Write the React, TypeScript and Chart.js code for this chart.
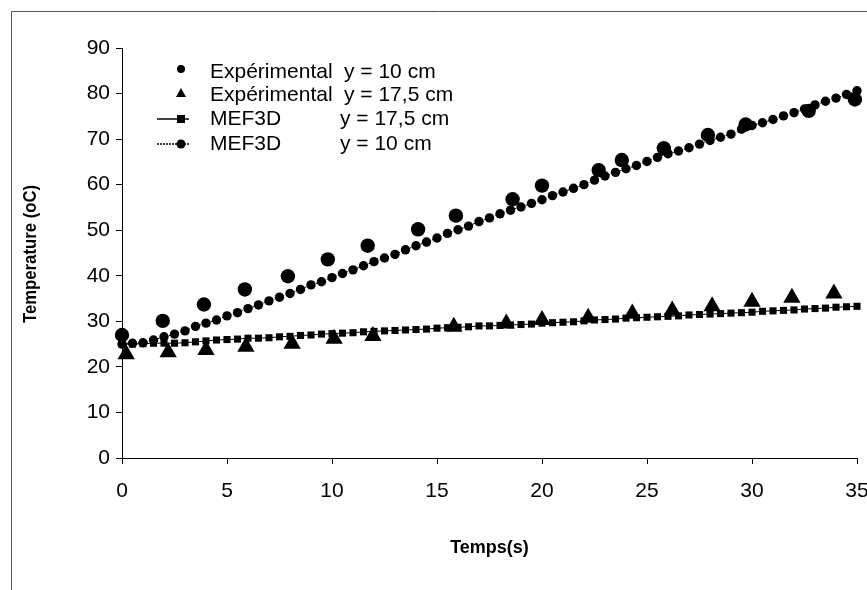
import React, { useEffect, useRef } from "react";
import { Chart, registerables } from "chart.js";

Chart.register(...registerables);

// Experimental, y = 10 cm
const expTimes10 = [0, 1.94, 3.9, 5.85, 7.9, 9.8, 11.7, 14.1, 15.9, 18.6, 20.0, 22.7, 23.8, 25.8, 27.9, 29.7, 32.7, 34.9];
const expTemp10 = [27.0, 30.1, 33.7, 37.0, 39.9, 43.6, 46.6, 50.2, 53.2, 56.8, 59.8, 63.2, 65.4, 68.0, 70.9, 73.2, 76.2, 78.7];

// Experimental, y = 17,5 cm
const expTimes175 = [0.2, 2.2, 4.0, 5.9, 8.1, 10.1, 11.95, 15.8, 18.3, 20.0, 22.2, 24.3, 26.2, 28.1, 30.0, 31.9, 33.9];
const expTemp175 = [22.8, 23.2, 23.7, 24.4, 25.1, 26.2, 26.8, 28.8, 29.5, 30.3, 30.8, 31.7, 32.4, 33.3, 34.3, 35.2, 36.1];

// MEF3D model time steps
const modelTimes = [
  0, 0.5, 1, 1.5, 2, 2.5, 3, 3.5, 4, 4.5, 5, 5.5, 6, 6.5, 7, 7.5, 8, 8.5, 9, 9.5,
  10, 10.5, 11, 11.5, 12, 12.5, 13, 13.5, 14, 14.5, 15, 15.5, 16, 16.5, 17, 17.5,
  18, 18.5, 19, 19.5, 20, 20.5, 21, 21.5, 22, 22.5, 23, 23.5, 24, 24.5, 25, 25.5,
  26, 26.5, 27, 27.5, 28, 28.5, 29, 29.5, 30, 30.5, 31, 31.5, 32, 32.5, 33, 33.5,
  34, 34.5, 35,
];

// MEF3D, y = 17,5 cm
const model175 = [
  25.0, 25.0, 25.1, 25.2, 25.2, 25.2, 25.3, 25.5, 25.7, 25.9, 26.0, 26.1, 26.3, 26.3, 26.4, 26.6, 26.7, 26.9, 27.0, 27.2,
  27.3, 27.4, 27.5, 27.7, 27.8, 27.9, 28.0, 28.1, 28.2, 28.3, 28.5, 28.6, 28.7, 28.8, 29.0, 29.0,
  29.1, 29.2, 29.3, 29.4, 29.6, 29.7, 29.8, 29.9, 30.1, 30.3, 30.4, 30.5, 30.7, 30.8, 30.9, 31.0,
  31.1, 31.2, 31.4, 31.5, 31.6, 31.7, 31.8, 31.9, 32.0, 32.2, 32.3, 32.4, 32.5, 32.7, 32.8, 32.9,
  33.1, 33.2, 33.3,
];

// MEF3D, y = 10 cm
const model10 = [
  25.0, 25.2, 25.3, 25.9, 26.6, 27.2, 27.9, 28.9, 29.6, 30.3, 31.2, 31.9, 32.8, 33.6, 34.5, 35.3, 36.1, 37.0, 38.0, 38.7,
  39.6, 40.5, 41.3, 42.2, 43.1, 43.9, 44.7, 45.7, 46.6, 47.4, 48.3, 49.3, 50.1, 50.9, 51.9, 52.7,
  53.6, 54.4, 55.1, 55.9, 56.7, 57.6, 58.4, 59.2, 60.0, 61.0, 61.9, 62.7, 63.5, 64.2, 65.1, 66.0,
  66.8, 67.4, 68.1, 68.9, 69.7, 70.4, 71.1, 72.2, 73.0, 73.6, 74.3, 75.1, 75.8, 76.6, 77.5, 78.3,
  79.0, 79.8, 80.6,
];

const legendNames = ["Expérimental", "Expérimental", "MEF3D", "MEF3D"];
const legendPositions = ["y = 10 cm", "y = 17,5 cm", "y = 17,5 cm", "y = 10 cm"];

const xTitle = "Temps(s)";
const yTitle = "Temperature (oC)";

const pts = (xs: number[], ys: number[]) => xs.map((x, i) => ({ x, y: ys[i] }));

const FONT = "'Liberation Sans', Arial, sans-serif";

const framePlugin = {
  id: "frame",
  beforeDraw(chart: any) {
    const ctx = chart.ctx;
    ctx.save();
    ctx.strokeStyle = "#555";
    ctx.lineWidth = 1;
    ctx.beginPath();
    ctx.moveTo(11.5, 590);
    ctx.lineTo(11.5, 11.5);
    ctx.lineTo(867, 11.5);
    ctx.stroke();
    ctx.restore();
  },
};

// Condensed bold y-axis title (Arial Narrow look)
const yTitlePlugin = {
  id: "yTitleNarrow",
  afterDraw(chart: any) {
    const ctx = chart.ctx;
    const area = chart.chartArea;
    ctx.save();
    ctx.translate(31, (area.top + area.bottom) / 2 + 1);
    ctx.rotate(-Math.PI / 2);
    ctx.scale(0.88, 1);
    ctx.font = `bold 19px ${FONT}`;
    ctx.fillStyle = "#000";
    ctx.textAlign = "center";
    ctx.textBaseline = "middle";
    ctx.fillText(yTitle, 0, 0);
    ctx.restore();
  },
};

const legendPlugin = {
  id: "customLegend",
  afterDraw(chart: any) {
    const ctx = chart.ctx;
    const rows = [72, 95, 119, 144];
    const mx = 181;
    ctx.save();
    ctx.fillStyle = "#000";
    ctx.strokeStyle = "#000";
    // row 1: circle
    ctx.beginPath();
    ctx.arc(mx, rows[0] - 3, 4, 0, Math.PI * 2);
    ctx.fill();
    // row 2: triangle
    ctx.beginPath();
    const ty = rows[1] - 1;
    ctx.moveTo(mx, ty - 6);
    ctx.lineTo(mx + 5, ty + 3);
    ctx.lineTo(mx - 5, ty + 3);
    ctx.closePath();
    ctx.fill();
    // row 3: solid line with square
    ctx.lineWidth = 1.5;
    ctx.beginPath();
    ctx.moveTo(157, rows[2]);
    ctx.lineTo(189, rows[2]);
    ctx.stroke();
    ctx.fillRect(mx - 4, rows[2] - 4, 8, 8);
    // row 4: dashed line with circle
    ctx.setLineDash([2, 1]);
    ctx.beginPath();
    ctx.moveTo(157, rows[3]);
    ctx.lineTo(189, rows[3]);
    ctx.stroke();
    ctx.setLineDash([]);
    ctx.beginPath();
    ctx.arc(mx, rows[3], 4.5, 0, Math.PI * 2);
    ctx.fill();
    // text
    ctx.font = `21px ${FONT}`;
    ctx.textBaseline = "middle";
    ctx.textAlign = "left";
    for (let i = 0; i < 4; i++) {
      ctx.fillText(legendNames[i], 210, rows[i]);
      ctx.fillText(legendPositions[i], i < 2 ? 344 : 340, rows[i]);
    }
    ctx.restore();
  },
};

export default function App() {
  const ref = useRef<HTMLCanvasElement | null>(null);
  useEffect(() => {
    if (!ref.current) return;
    const chart = new Chart(ref.current, {
      type: "line",
      data: {
        datasets: [
          {
            label: "MEF3D y = 17,5 cm",
            data: pts(modelTimes, model175),
            borderColor: "#000",
            backgroundColor: "#000",
            borderWidth: 1,
            pointStyle: "rect",
            pointRadius: 5,
            pointBorderWidth: 0,
            clip: false,
          },
          {
            label: "MEF3D y = 10 cm",
            data: pts(modelTimes, model10),
            borderColor: "#000",
            backgroundColor: "#000",
            borderWidth: 1,
            borderDash: [2, 2],
            pointStyle: "circle",
            pointRadius: 4.7,
            pointBorderWidth: 0,
            clip: false,
          },
          {
            label: "Expérimental y = 10 cm",
            data: pts(expTimes10, expTemp10),
            showLine: false,
            borderColor: "#000",
            backgroundColor: "#000",
            pointStyle: "circle",
            pointRadius: 7.2,
            pointBorderWidth: 0,
            clip: false,
          },
          {
            label: "Expérimental y = 17,5 cm",
            data: pts(expTimes175, expTemp175),
            showLine: false,
            borderColor: "#000",
            backgroundColor: "#000",
            pointStyle: "triangle",
            pointRadius: 10,
            pointBorderWidth: 0,
            clip: false,
          },
        ],
      },
      options: {
        animation: false,
        responsive: false,
        devicePixelRatio: 1,
        layout: { padding: { left: 0, right: 9, top: 48, bottom: 0 } },
        plugins: { legend: { display: false }, tooltip: { enabled: false } },
        scales: {
          x: {
            type: "linear",
            min: 0,
            max: 35,
            ticks: { stepSize: 5, color: "#000", font: { family: FONT, size: 21 }, padding: 15, maxRotation: 0 },
            grid: { drawOnChartArea: false, drawTicks: true, tickLength: 6, color: "#000" },
            border: { display: true, color: "#000", width: 1 },
            title: {
              display: true,
              text: xTitle,
              color: "#000",
              font: { family: FONT, size: 18, weight: "bold" },
              padding: { top: 0, bottom: 31 },
            },
            afterFit(scale: any) {
              scale.height = 132;
              scale.paddingLeft = 0;
              scale.paddingRight = 0;
            },
          },
          y: {
            type: "linear",
            min: 0,
            max: 90,
            ticks: { stepSize: 10, color: "#000", font: { family: FONT, size: 21 }, padding: 6 },
            grid: { drawOnChartArea: false, drawTicks: true, tickLength: 6, color: "#000" },
            border: { display: true, color: "#000", width: 1 },
            title: { display: false, text: yTitle },
            afterFit(scale: any) {
              scale.width = 122;
              scale.paddingTop = 0;
              scale.paddingBottom = 0;
            },
          },
        },
      } as any,
      plugins: [framePlugin, yTitlePlugin, legendPlugin],
    });
    return () => chart.destroy();
  }, []);
  return (
    <div style={{ position: "absolute", left: 0, top: 0, width: 867, height: 590, background: "#fff" }}>
      <canvas ref={ref} width={867} height={590} />
    </div>
  );
}
